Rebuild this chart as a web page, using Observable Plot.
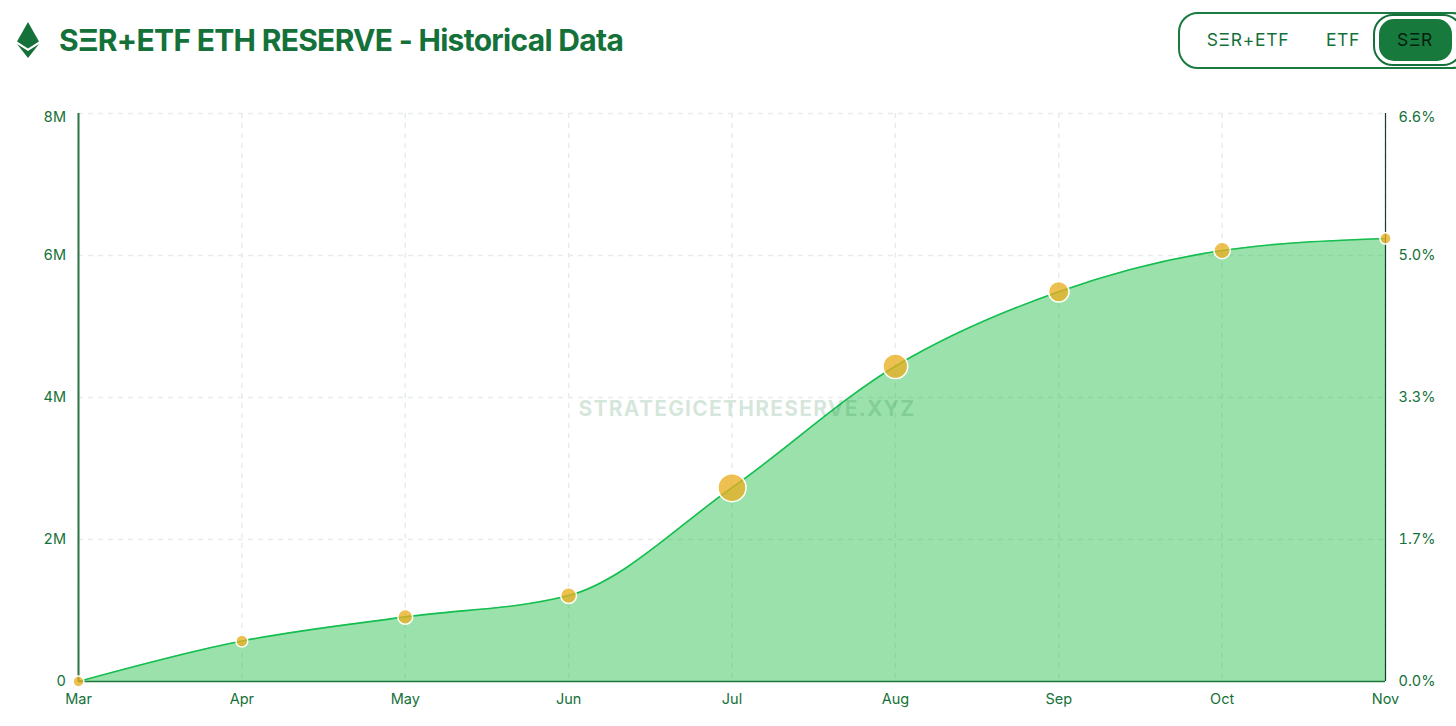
<!DOCTYPE html>
<html>
<head>
<meta charset="utf-8">
<script src="https://cdn.jsdelivr.net/npm/d3@7"></script>
<script src="https://cdn.jsdelivr.net/npm/@observablehq/plot@0.6"></script>
<style>
html,body{margin:0;padding:0;background:#fff;width:1456px;height:726px;overflow:hidden;font-family:Inter,sans-serif;}
#head{position:relative;height:80px;width:1456px;}
#logo{position:absolute;left:17px;top:22px;}
#title{position:absolute;left:59px;top:22px;margin:0;font-size:30px;line-height:36px;font-weight:700;color:#14713a;letter-spacing:-0.7px;white-space:nowrap;}
#toggle{position:absolute;left:1178px;top:11.5px;width:290px;height:53.5px;border:2px solid #1b7a40;border-radius:20px;box-sizing:content-box;}
#toggle span{position:absolute;top:15.5px;font-size:17.5px;line-height:21px;letter-spacing:.7px;color:#14713a;transform:translateX(-50%);white-space:nowrap;}
#ring{position:absolute;left:1373px;top:13.5px;width:90px;height:52px;border:2.5px solid #14713a;border-radius:20px;background:#fff;box-sizing:border-box;}
#pill{position:absolute;left:1379px;top:19px;width:73px;height:42px;background:#177a3c;border-radius:15px;}
#active{position:absolute;left:1415px;top:29px;font-size:17.5px;line-height:21px;letter-spacing:.7px;color:#03200f;transform:translateX(-50%);}
#chart svg{display:block;}
.wm text{letter-spacing:1.23px;}
</style>
</head>
<body>
<div id="head">
  <svg id="logo" width="22" height="36" viewBox="0 0 22 36">
    <polygon points="11,0 22,19.5 11,26.5 0,19.5" fill="#14713a"/>
    <polygon points="0,22 11,29 22,22 11,36" fill="#14713a"/>
  </svg>
  <h1 id="title">SΞR+ETF ETH RESERVE - Historical Data</h1>
  <div id="toggle">
    <span style="left:68px">SΞR+ETF</span>
    <span style="left:163px">ETF</span>
  </div>
  <div id="ring"></div>
  <div id="pill"></div>
  <div id="active">SΞR</div>
</div>
<div id="chart"></div>
<script>
const months = ["Mar","Apr","May","Jun","Jul","Aug","Sep","Oct","Nov"];
const reserve = [0, 0.57, 0.91, 1.21, 2.73, 4.44, 5.49, 6.07, 6.24];
const bubble = [15, 18, 28, 32, 100, 78, 54, 34, 16];
const lowerTicks = [0, 2, 4, 6];
const lowerLabels = ["0", "2M", "4M", "6M"];
const lowerPct = ["0.0%", "1.7%", "3.3%", "5.0%"];
const topTick = [8];
const topLabel = "8M";
const topPct = "6.6%";
const allTicks = [0, 2, 4, 6, 8];
const watermark = "STRATEGICETHRESERVE.XYZ";

const rows = months.map((m, i) => ({month: m, value: reserve[i], size: bubble[i]}));
const green = "#14713a";
const grid = {stroke: "#e6ede9", strokeOpacity: 1, strokeDasharray: "5,5", strokeWidth: 1.5};

const chart = Plot.plot({
  width: 1456,
  height: 646,
  marginTop: 33,
  marginBottom: 45,
  marginLeft: 78,
  marginRight: 71,
  style: {fontFamily: "Inter, sans-serif", fontSize: "15px", color: green, background: "#fff"},
  x: {type: "point", domain: months, padding: 0, round: false, label: null},
  y: {domain: [0, 8], label: null},
  r: {domain: [0, 100], range: [0, 14]},
  marks: [
    Plot.gridX(months, {...grid}),
    Plot.gridY(allTicks, {...grid}),
    Plot.areaY(rows, {x: "month", y: "value", curve: "monotone-x", fill: "#0db535", fillOpacity: 0.41}),
    Plot.lineY(rows, {x: "month", y: "value", curve: "monotone-x", stroke: "#14bf50", strokeWidth: 1.6}),
    Plot.ruleY([0], {stroke: "#1f7a3f", strokeWidth: 1.5}),
    Plot.ruleX(["Mar"], {stroke: "#2b7340", strokeWidth: 2}),
    Plot.ruleX(["Nov"], {stroke: "#17402a", strokeWidth: 1.2}),
    Plot.text([watermark], {
      frameAnchor: "middle", dx: 15, dy: 12, text: d => d, className: "wm",
      fontSize: 21, fontWeight: 700, fill: "#1f7a3f", fillOpacity: 0.2
    }),
    Plot.dot(rows, {x: "month", y: "value", r: "size", fill: "#e8ae20", fillOpacity: 0.78, stroke: "#fff", strokeWidth: 1.5}),
    Plot.axisX(months, {anchor: "bottom", tickSize: 0, tickPadding: 12, fill: green, fontSize: 14.5, label: null}),
    Plot.axisY(lowerTicks, {anchor: "left", tickSize: 0, tickPadding: 12.5, fill: green, fontSize: 14.5, label: null,
      tickFormat: d => lowerLabels[lowerTicks.indexOf(d)]}),
    Plot.axisY(topTick, {anchor: "left", tickSize: 0, tickPadding: 12.5, fill: green, fontSize: 14.5, label: null, dy: 4,
      tickFormat: () => topLabel}),
    Plot.axisY(lowerTicks, {anchor: "right", tickSize: 0, tickPadding: 13, fill: green, fontSize: 14.5, label: null,
      tickFormat: d => lowerPct[lowerTicks.indexOf(d)]}),
    Plot.axisY(topTick, {anchor: "right", tickSize: 0, tickPadding: 13, fill: green, fontSize: 14.5, label: null, dy: 4,
      tickFormat: () => topPct})
  ]
});
document.getElementById("chart").appendChild(chart);
</script>
</body>
</html>
